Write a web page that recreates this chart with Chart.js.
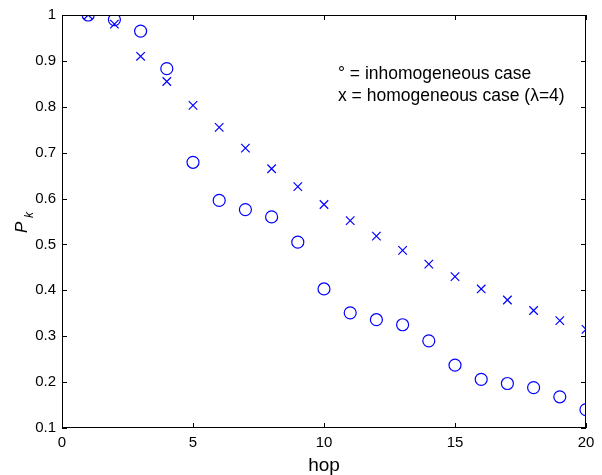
<!DOCTYPE html>
<html>
<head>
<meta charset="utf-8">
<script src="https://cdn.jsdelivr.net/npm/chart.js@4"></script>
<style>
  html, body { margin: 0; padding: 0; background: #fff; }
  #wrap { width: 602px; height: 475px; }
</style>
</head>
<body>
<div id="wrap"><canvas id="chart"></canvas></div>
<script>
var hops = [1,2,3,4,5,6,7,8,9,10,11,12,13,14,15,16,17,18,19,20];
var inhomogeneous = [1.0,0.99,0.965,0.883,0.679,0.596,0.576,0.56,0.505,0.403,0.351,0.336,0.325,0.29,0.237,0.206,0.197,0.188,0.168,0.14];
var homogeneous = [1.0,0.98,0.91,0.855,0.803,0.755,0.71,0.665,0.626,0.587,0.552,0.518,0.487,0.457,0.43,0.403,0.379,0.356,0.334,0.315];
var xTicks = [0,5,10,15,20];
var yTicks = [0.1,0.2,0.3,0.4,0.5,0.6,0.7,0.8,0.9,1];
var legendLines = ['\u00b0 = inhomogeneous case', 'x = homogeneous case (\u03bb=4)'];

function toPoints(xs, ys) {
  return xs.map(function(x, i) { return {x: x, y: ys[i]}; });
}

var FONT = '"Liberation Sans", Arial, sans-serif';

// frame, inward ticks, legend text and axis labels like the matlab figure
var matlabFrame = {
  id: 'matlabFrame',
  afterDraw: function(chart) {
    var ctx = chart.ctx, a = chart.chartArea;
    var xs = chart.scales.x, ys = chart.scales.y;
    ctx.save();
    ctx.strokeStyle = '#000';
    ctx.lineWidth = 1;
    ctx.strokeRect(Math.round(a.left) + 0.5, Math.round(a.top) + 0.5,
      Math.round(a.right - a.left) - 1, Math.round(a.bottom - a.top) - 1);
    ctx.beginPath();
    var t = 5;
    xTicks.forEach(function(v) {
      var px = Math.round(xs.getPixelForValue(v)) + 0.5;
      ctx.moveTo(px, a.bottom); ctx.lineTo(px, a.bottom - t);
      ctx.moveTo(px, a.top); ctx.lineTo(px, a.top + t);
    });
    yTicks.forEach(function(v) {
      var py = Math.round(ys.getPixelForValue(v)) + 0.5;
      ctx.moveTo(a.left, py); ctx.lineTo(a.left + t, py);
      ctx.moveTo(a.right, py); ctx.lineTo(a.right - t, py);
    });
    ctx.stroke();

    ctx.fillStyle = '#000';
    ctx.textBaseline = 'alphabetic';
    ctx.textAlign = 'left';
    ctx.font = '17.5px ' + FONT;
    ctx.fillText(legendLines[0], 338, 79);
    ctx.fillText(legendLines[1], 338, 101);

    // x label
    ctx.textAlign = 'center';
    ctx.font = '19px ' + FONT;
    ctx.fillText('hop', (a.left + a.right) / 2, 471);

    // y label P_k
    ctx.textAlign = 'left';
    ctx.translate(27, 233);
    ctx.rotate(-Math.PI / 2);
    ctx.font = 'italic 17px ' + FONT;
    ctx.fillText('P', 0, 0);
    ctx.font = 'italic 12px ' + FONT;
    ctx.fillText('k', 15, 6);
    ctx.restore();
  }
};

new Chart(document.getElementById('chart'), {
  type: 'scatter',
  data: {
    datasets: [{
      label: 'inhomogeneous case',
      data: toPoints(hops, inhomogeneous),
      pointStyle: 'circle',
      pointRadius: 6,
      pointBorderWidth: 1.2,
      borderColor: '#0000ff',
      backgroundColor: 'rgba(0,0,0,0)'
    }, {
      label: 'homogeneous case',
      data: toPoints(hops, homogeneous),
      pointStyle: 'crossRot',
      pointRadius: 6,
      pointBorderWidth: 1.2,
      borderColor: '#0000ff',
      backgroundColor: 'rgba(0,0,0,0)'
    }]
  },
  options: {
    responsive: true,
    maintainAspectRatio: false,
    animation: false,
    layout: { padding: { left: 0, right: 16, top: 15, bottom: 0 } },
    plugins: { legend: { display: false }, tooltip: { enabled: false } },
    scales: {
      x: {
        type: 'linear', min: 0, max: 20,
        afterBuildTicks: function(s) { s.ticks = xTicks.map(function(v) { return {value: v}; }); },
        afterFit: function(s) { s.height = 47; },
        grid: { display: false, drawTicks: false },
        border: { display: false },
        ticks: { color: '#000', font: { family: FONT, size: 15 }, padding: 6, maxRotation: 0 }
      },
      y: {
        type: 'linear', min: 0.1, max: 1,
        afterBuildTicks: function(s) { s.ticks = yTicks.map(function(v) { return {value: v}; }); },
        afterFit: function(s) { s.width = 62; },
        grid: { display: false, drawTicks: false },
        border: { display: false },
        ticks: { color: '#000', font: { family: FONT, size: 15 }, padding: 6,
          callback: function(v) { return v === 1 ? '1' : v.toFixed(1); } }
      }
    }
  },
  plugins: [matlabFrame]
});
</script>
</body>
</html>
